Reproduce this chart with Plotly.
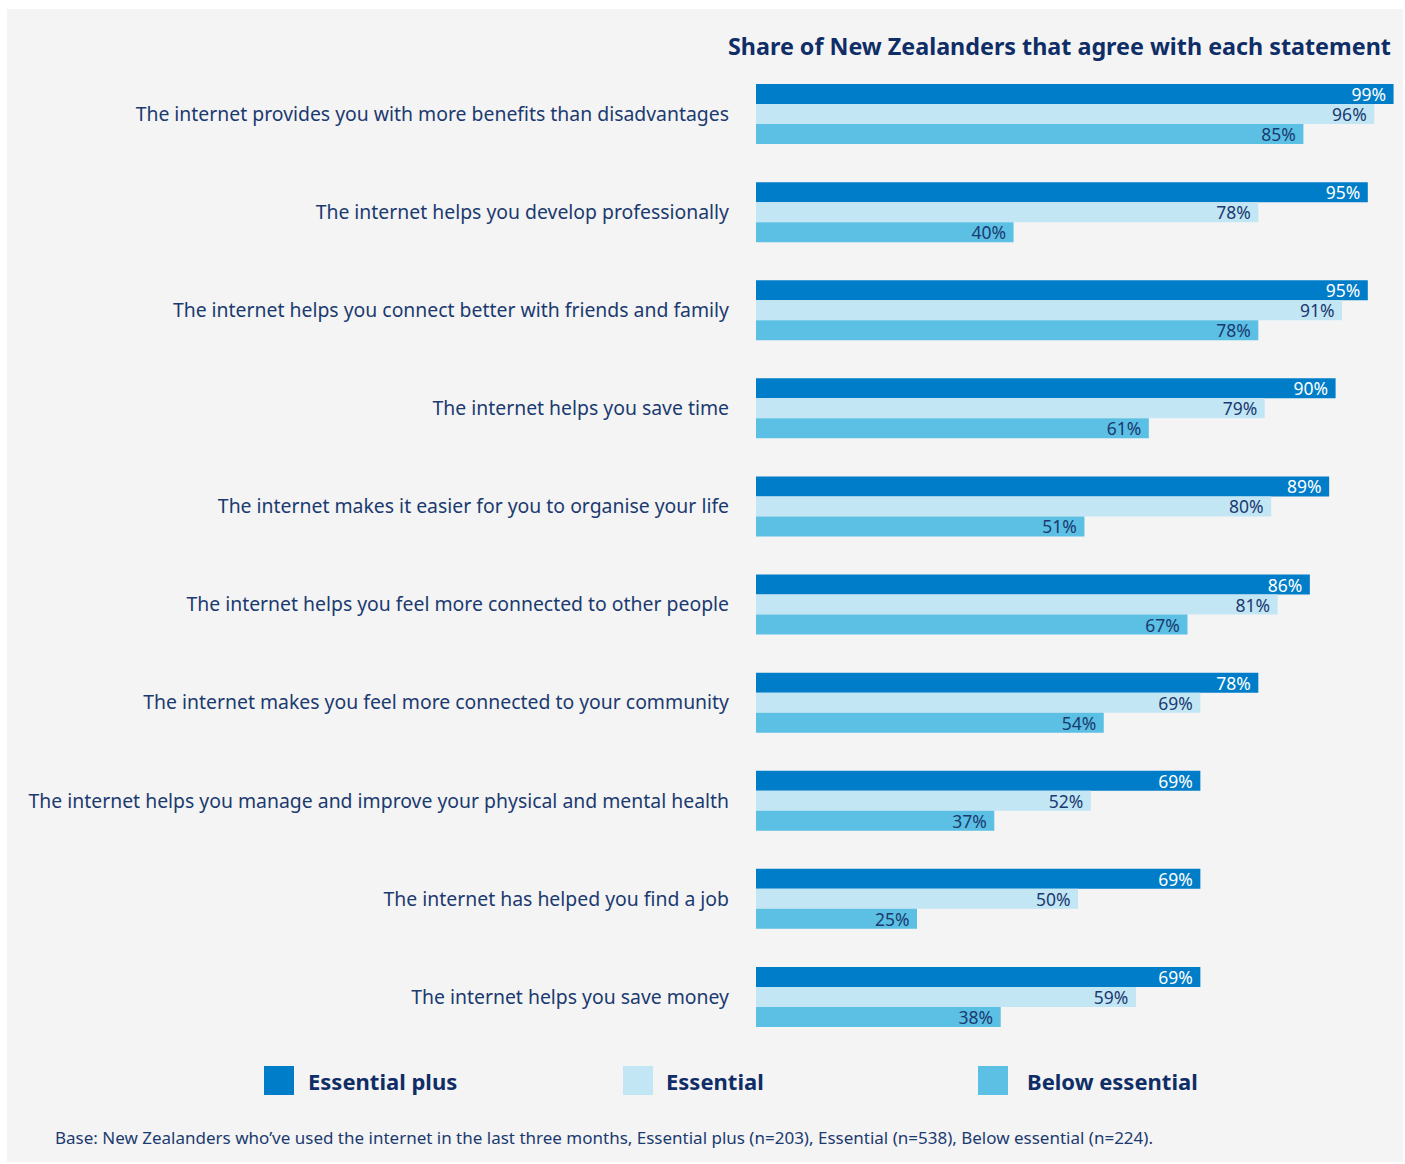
import plotly.graph_objects as go

# Survey statements (top to bottom)
statements = [
    "The internet provides you with more benefits than disadvantages",
    "The internet helps you develop professionally",
    "The internet helps you connect better with friends and family",
    "The internet helps you save time",
    "The internet makes it easier for you to organise your life",
    "The internet helps you feel more connected to other people",
    "The internet makes you feel more connected to your community",
    "The internet helps you manage and improve your physical and mental health",
    "The internet has helped you find a job",
    "The internet helps you save money",
]

series_names = ["Essential plus", "Essential", "Below essential"]
essential_plus = [99, 95, 95, 90, 89, 86, 78, 69, 69, 69]
essential = [96, 78, 91, 79, 80, 81, 69, 52, 50, 59]
below_essential = [85, 40, 78, 61, 51, 67, 54, 37, 25, 38]

colors = ["#007dc8", "#c3e6f5", "#5bc0e4"]
text_colors = ["#ffffff", "#1b3a70", "#1b3a70"]
navy = "#1b3a70"
title_navy = "#0f2d66"

W, H = 1405, 1164
L, R, T, B = 756, 5, 65, 118
FONT = "Noto Sans"


def px_x(x):
    """Convert a pixel x position to paper coordinates."""
    return (x - L) / (W - L - R)


def px_y(y):
    """Convert a pixel y position (from top) to paper coordinates."""
    return (H - B - y) / (H - T - B)


fig = go.Figure()
for name, vals, col, tcol in zip(series_names,
                                 [essential_plus, essential, below_essential],
                                 colors, text_colors):
    fig.add_trace(go.Bar(
        name=name,
        y=statements,
        x=vals,
        orientation="h",
        marker=dict(color=col, line=dict(width=0)),
        text=[f"{v}%\u00a0" for v in vals],
        textposition="inside",
        insidetextanchor="end",
        constraintext="none",
        textfont=dict(family=FONT, size=17.5, color=tcol),
        cliponaxis=False,
        hoverinfo="skip",
    ))

shapes = [
    # light grey panel behind everything
    dict(type="rect", xref="paper", yref="paper", layer="below",
         x0=px_x(7), x1=px_x(1403), y0=px_y(1162), y1=px_y(9),
         fillcolor="#f4f4f4", line=dict(width=0)),
]
annotations = [
    dict(text="<b>Share of New Zealanders that agree with each statement</b>",
         xref="paper", yref="paper", x=px_x(1393), y=px_y(46),
         xanchor="right", yanchor="middle", showarrow=False,
         font=dict(family=FONT, size=23.3, color=title_navy)),
    dict(text="Base: New Zealanders who\u2019ve used the internet in the last three months, "
              "Essential plus (n=203), Essential (n=538), Below essential (n=224).",
         xref="paper", yref="paper", x=px_x(53), y=px_y(1137),
         xanchor="left", yanchor="middle", showarrow=False,
         font=dict(family=FONT, size=17, color=navy)),
]

# Custom legend row
legend_box_x = [264, 623, 978]
legend_text_x = [306, 664, 1025]
for name, col, bx, tx in zip(series_names, colors, legend_box_x, legend_text_x):
    shapes.append(dict(type="rect", xref="paper", yref="paper",
                       x0=px_x(bx), x1=px_x(bx + 30), y0=px_y(1095), y1=px_y(1066),
                       fillcolor=col, line=dict(width=0)))
    annotations.append(dict(text=f"<b>{name}</b>", xref="paper", yref="paper",
                            x=px_x(tx), y=px_y(1081), xanchor="left", yanchor="middle",
                            showarrow=False,
                            font=dict(family=FONT, size=22, color=title_navy)))

fig.update_layout(
    width=W, height=H,
    margin=dict(l=L, r=R, t=T, b=B, autoexpand=False),
    paper_bgcolor="#ffffff",
    plot_bgcolor="rgba(0,0,0,0)",
    barmode="group",
    bargap=0.388,
    bargroupgap=0,
    showlegend=False,
    font=dict(family=FONT, color=navy),
    xaxis=dict(range=[0, 100], visible=False, fixedrange=True),
    yaxis=dict(autorange="reversed", showgrid=False, zeroline=False, showline=False,
               ticks="", ticklabelstandoff=26,
               tickfont=dict(family=FONT, size=19.4, color=navy)),
    shapes=shapes,
    annotations=annotations,
)

fig.write_html("out.html")
